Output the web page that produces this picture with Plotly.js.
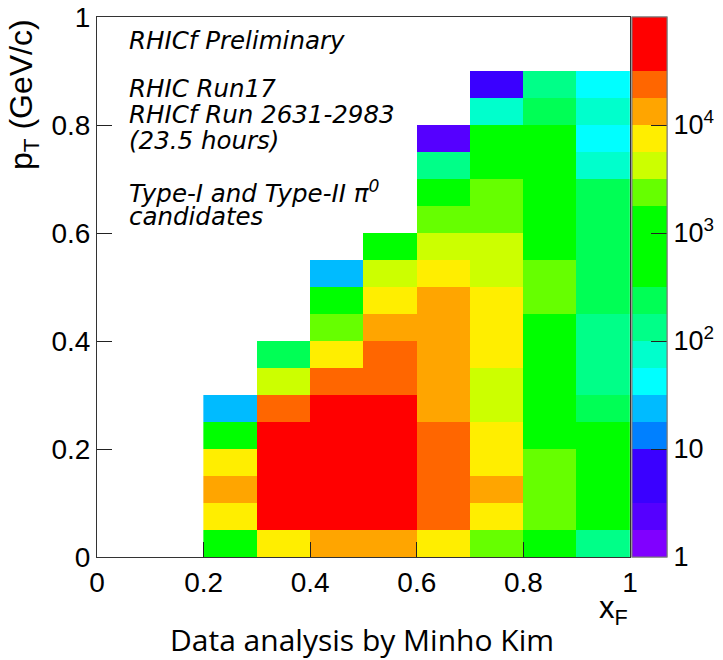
<!DOCTYPE html>
<html><head><meta charset="utf-8">
<script src="https://cdn.plot.ly/plotly-3.0.1.min.js"></script>
<style>html,body{margin:0;padding:0;background:#fff}</style>
</head><body>
<div id="chart" style="width:723px;height:660px"></div>
<script>
// ---- data (counts per bin) ----
const xBinCenters = [0.25, 0.35, 0.45, 0.55, 0.65, 0.75, 0.85, 0.95];
const yBinCenters = [0.025, 0.075, 0.125, 0.175, 0.225, 0.275, 0.325, 0.375, 0.425,
                     0.475, 0.525, 0.575, 0.625, 0.675, 0.725, 0.775, 0.825, 0.875];
// each array: pT bins from 0 upward
const counts_xF_020_030 = [900, 7000, 12000, 6500, 700, 24, null, null, null, null, null, null, null, null, null, null, null, null];
const counts_xF_030_040 = [8000, 42000, 55000, 52000, 38000, 22000, 4000, 230, null, null, null, null, null, null, null, null, null, null];
const counts_xF_040_050 = [15000, 60000, 75000, 70000, 58000, 40000, 26000, 6800, 2300, 900, 27, null, null, null, null, null, null, null];
const counts_xF_050_060 = [14000, 65000, 80000, 78000, 62000, 45000, 28000, 20000, 11000, 6200, 3800, 1100, null, null, null, null, null, null];
const counts_xF_060_070 = [6500, 25000, 30000, 29000, 26000, 16000, 15000, 14000, 12500, 11000, 6000, 3600, 2000, 1000, 120, 2, null, null];
const counts_xF_070_080 = [2600, 8500, 12000, 8000, 7000, 5000, 4500, 6000, 6500, 6200, 4800, 3900, 2500, 2000, 1300, 1000, 70, 4];
const counts_xF_080_090 = [1500, 2300, 2600, 2200, 1700, 1500, 1400, 1300, 1100, 2100, 1900, 1600, 1400, 1200, 900, 600, 240, 130];
const counts_xF_090_100 = [150, 1000, 900, 800, 600, 250, 150, 140, 110, 260, 240, 220, 200, 190, 80, 50, 70, 40];

const colorbarTickVals = [1, 10, 100, 1000, 10000];
const colorbarTickText = ['1', '10', '10<sup>2</sup>', '10<sup>3</sup>', '10<sup>4</sup>'];
const zMin = 1, zMax = 1e5;

// ---- style ----
const bandColors = ['#8000ff','#5500ff','#3a00ff','#3a00ff','#0080ff','#00bbff','#00ffff','#00ffcc',
                    '#00ff88','#00ff55','#00ff00','#00ff00','#00ff00','#66ff00','#ccff00','#ffee00',
                    '#ffa500','#ff6600','#ff0000','#ff0000'];

const columns = [counts_xF_020_030, counts_xF_030_040, counts_xF_040_050, counts_xF_050_060,
                 counts_xF_060_070, counts_xF_070_080, counts_xF_080_090, counts_xF_090_100];
const z = yBinCenters.map((_, r) => columns.map(col => col[r] == null ? null : Math.log10(col[r])));

const nb = bandColors.length;
const colorscale = [];
bandColors.forEach((c, i) => { colorscale.push([i / nb, c]); colorscale.push([(i + 1) / nb, c]); });

const lmin = Math.log10(zMin), lmax = Math.log10(zMax);
const minorVals = [];
for (let d = 0; d < 5; d++) for (let m = 2; m <= 9; m++) { const v = Math.log10(m) + d; if (v < lmax) minorVals.push(v); }

const FONT = 'Liberation Sans, Arial, Helvetica, sans-serif';
const cbBase = {x: 1, xanchor: 'left', xpad: 2, y: 0.5, yanchor: 'middle', ypad: 0, len: 1, lenmode: 'fraction',
                thickness: 35, thicknessmode: 'pixels', outlinewidth: 1, outlinecolor: '#777',
                ticks: 'inside', tickcolor: '#222', tickwidth: 1};

const base = {type: 'heatmap', x: xBinCenters, y: yBinCenters, z: z, zmin: lmin, zmax: lmax,
              colorscale: colorscale, zsmooth: false, hoverongaps: false, xgap: 0, ygap: 0};

const traces = [
  Object.assign({}, base, {colorbar: Object.assign({}, cbBase, {tickmode: 'array', tickvals: minorVals,
      ticklen: 8, showticklabels: false})}),
  Object.assign({}, base, {colorbar: Object.assign({}, cbBase, {tickmode: 'array',
      tickvals: colorbarTickVals.map(v => Math.log10(v)), ticktext: colorbarTickText, ticklen: 16,
      tickfont: {family: FONT, size: 27, color: '#000'}})})
];

const axisBase = {range: [0, 1], tick0: 0, dtick: 0.2, ticks: 'inside', ticklen: 15, tickwidth: 1, tickcolor: '#222',
                  showline: true, linecolor: '#333', linewidth: 1, mirror: true, showgrid: false, zeroline: false,
                  tickfont: {family: FONT, size: 28, color: '#000'}, fixedrange: true};

const TFONT = 'DejaVu Sans, Liberation Sans, sans-serif';
const txt = (s, y) => ({text: '<i>' + s + '</i>', xref: 'x', yref: 'y', x: 0.056, y: y, xanchor: 'left', yanchor: 'middle',
                        showarrow: false, font: {family: TFONT, size: 24.5, color: '#000'}});

const layout = {
  width: 723, height: 660,
  margin: {l: 97, r: 93, t: 17, b: 103, pad: 0, autoexpand: false},
  paper_bgcolor: '#fff', plot_bgcolor: '#fff',
  xaxis: Object.assign({}, axisBase),
  yaxis: Object.assign({}, axisBase),
  showlegend: false,
  annotations: [
    txt('RHICf Preliminary', 0.956),
    txt('RHIC Run17', 0.868),
    txt('RHICf Run 2631-2983', 0.819),
    txt('(23.5 hours)', 0.772),
    txt('Type-I and Type-II π<sup>0</sup>', 0.676),
    txt('candidates', 0.630),
    {text: 'p<sub>T</sub> (GeV/c)', textangle: -90, xref: 'paper', yref: 'paper', x: -0.138, y: 1.0,
     xanchor: 'center', yanchor: 'top', showarrow: false, font: {family: FONT, size: 32, color: '#000'}},
    {text: 'x<sub>F</sub>', xref: 'paper', yref: 'paper', x: 1.0, y: -0.057, xanchor: 'right', yanchor: 'top',
     showarrow: false, font: {family: FONT, size: 31, color: '#000'}},
    {text: 'Data analysis by Minho Kim', xref: 'paper', yref: 'paper', x: 0.497, y: -0.152,
     xanchor: 'center', yanchor: 'middle', showarrow: false, font: {family: 'Open Sans, Lato, sans-serif', size: 30, color: '#000'}}
  ]
};

Plotly.newPlot('chart', traces, layout, {displayModeBar: false, staticPlot: true});
</script>
</body></html>
